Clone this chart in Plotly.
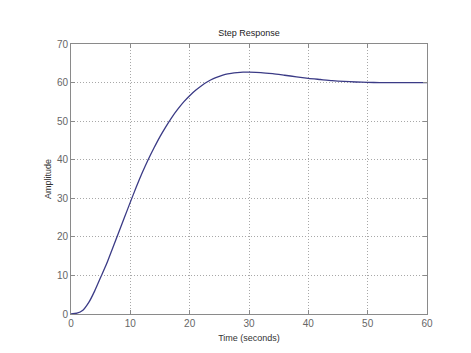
import plotly.graph_objects as go

time_s = [0, 1, 2, 3, 4, 5, 6, 7, 8, 9, 10, 11, 12, 13, 14, 15, 16, 17, 18, 19, 20,
          21, 22, 23, 24, 25, 26, 27, 28, 29, 30, 32, 34, 36, 38, 40, 42, 44, 46, 48,
          50, 52, 55, 60]
amplitude = [0, 0.2, 1, 3, 6, 9.5, 13, 17, 21, 25, 29, 32.9, 36.6, 40, 43.1, 46, 48.6, 51,
             53.1, 55, 56.6, 58, 59.2, 60.2, 61, 61.6, 62.1, 62.4, 62.6, 62.7, 62.7, 62.6,
             62.3, 61.9, 61.5, 61.1, 60.8, 60.5, 60.3, 60.15, 60.05, 60.0, 59.97, 60.0]
x_ticks = [0, 10, 20, 30, 40, 50, 60]
y_ticks = [0, 10, 20, 30, 40, 50, 60, 70]

fig = go.Figure()
fig.add_trace(go.Scatter(x=time_s, y=amplitude, mode="lines",
                         line=dict(color="#3b3b86", width=1.3, shape="spline", smoothing=0.6),
                         showlegend=False))

axis_common = dict(showline=True, linecolor="#8a8a8a", linewidth=1, mirror="allticks",
                   ticks="inside", ticklen=4, tickcolor="#8a8a8a", showgrid=True,
                   gridcolor="#a8a8a8", griddash="1px,2px", gridwidth=1, zeroline=False,
                   tickfont=dict(family="Arial, Liberation Sans", size=10, color="#666666"))

fig.update_xaxes(range=[0, 60], tickvals=x_ticks,
                 title=dict(text="Time (seconds)", standoff=6,
                            font=dict(family="Arial, Liberation Sans", size=9, color="#333333")),
                 **axis_common)
fig.update_yaxes(range=[0, 70], tickvals=y_ticks,
                 title=dict(text="Amplitude", standoff=3,
                            font=dict(family="Arial, Liberation Sans", size=9, color="#333333")),
                 **axis_common)

fig.update_layout(width=471, height=353, margin=dict(l=71, r=44, t=44, b=39),
                  paper_bgcolor="white", plot_bgcolor="white",
                  title=dict(text="Step Response", x=0.5, xanchor="center", xref="paper",
                             y=1 - 33 / 353, yanchor="middle",
                             font=dict(family="Arial, Liberation Sans", size=9, color="#222222")))

fig.write_html("out.html")
